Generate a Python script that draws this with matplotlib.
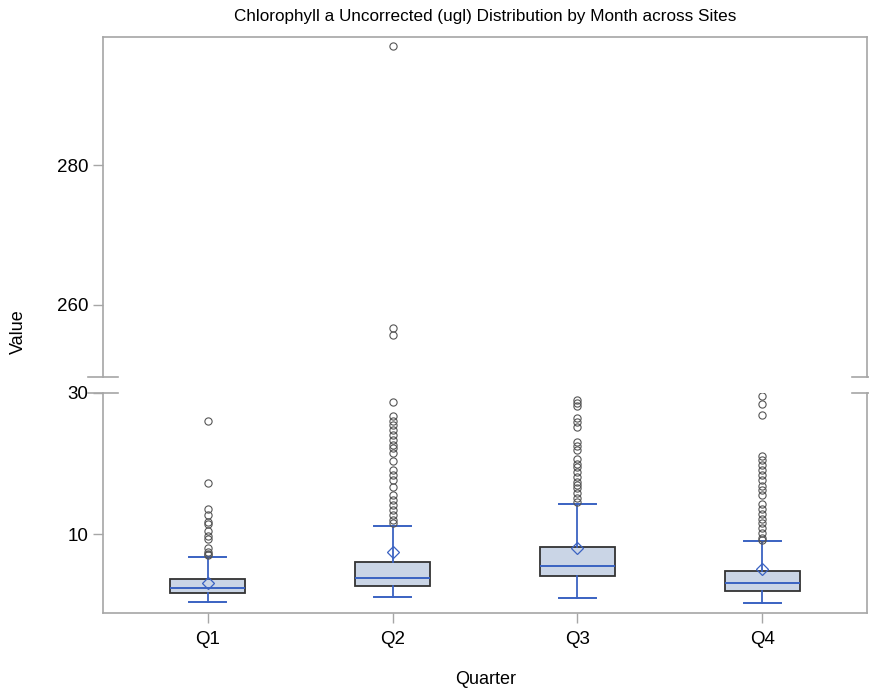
import matplotlib
matplotlib.use("Agg")
import matplotlib.pyplot as plt

plt.rcParams['font.family'] = ['Liberation Sans', 'DejaVu Sans']

quarters = ["Q1", "Q2", "Q3", "Q4"]
whislo = [0.35, 1.0, 0.9, 0.26]
q1 = [1.6, 2.7, 4.1, 1.95]
med = [2.3, 3.8, 5.5, 3.0]
q3 = [3.65, 6.1, 8.15, 4.75]
whishi = [6.8, 11.2, 14.2, 8.95]
means = [3.1, 7.4, 8.0, 5.05]
fliers = [
    [26.0, 17.2, 13.5, 12.7, 11.7, 11.4, 10.4, 9.7, 9.3, 8.0, 7.5, 7.2, 7.0],
    [297.0, 256.7, 255.7, 28.7, 26.7, 26.0, 25.5, 24.8, 24.0, 23.3, 22.6, 22.2,
     21.5, 20.3, 19.1, 18.4, 17.7, 16.7, 15.5, 14.8, 14.1, 13.4, 12.7, 12.0, 11.5],
    [29.0, 28.6, 28.2, 26.5, 25.9, 25.2, 23.1, 22.5, 21.9, 20.6, 20.0, 19.5,
     18.8, 18.1, 17.4, 17.0, 16.5, 15.8, 15.1, 14.6],
    [29.6, 28.4, 26.9, 21.1, 20.5, 19.8, 19.1, 18.4, 17.7, 16.8, 16.2, 15.5,
     14.3, 13.6, 12.9, 12.2, 11.5, 10.8, 10.1, 9.4, 9.2],
]

BLUE = "#3a62c2"
SPINE = "#a6a6a6"

stats = []
for i in range(len(quarters)):
    stats.append(dict(whislo=whislo[i], q1=q1[i], med=med[i], q3=q3[i],
                      whishi=whishi[i], mean=means[i], fliers=fliers[i]))

fig = plt.figure(figsize=(8.69, 6.89), dpi=100)
W, H = 869, 689
left, right = 103 / W, 867 / W
ax_top = fig.add_axes([left, 1 - 377 / H, right - left, (377 - 37) / H])
ax_bot = fig.add_axes([left, 1 - 613 / H, right - left, (613 - 393) / H])

for ax in (ax_top, ax_bot):
    ax.bxp(stats, positions=range(len(quarters)), widths=0.405, capwidths=0.195,
           showmeans=True, patch_artist=True,
           boxprops=dict(facecolor="#cad5e6", edgecolor="#333333", linewidth=1.3),
           medianprops=dict(color=BLUE, linewidth=1.4),
           whiskerprops=dict(color=BLUE, linewidth=1.3),
           capprops=dict(color=BLUE, linewidth=1.4),
           meanprops=dict(marker="D", markerfacecolor="none", markeredgecolor=BLUE,
                          markersize=6.5, markeredgewidth=0.9),
           flierprops=dict(marker="o", markerfacecolor="none", markeredgecolor="#555555",
                           markersize=5.2, markeredgewidth=0.8))
    ax.set_xlim(-0.565, 3.565)
    for s in ax.spines.values():
        s.set_color(SPINE)
        s.set_linewidth(1.2)
    ax.tick_params(axis="both", colors=SPINE, labelcolor="black", labelsize=13.5,
                   length=7, width=1.0)

ax_top.set_ylim(249.7, 298.3)
ax_top.set_yticks([260, 280])
ax_top.spines["bottom"].set_visible(False)
ax_top.tick_params(axis="x", bottom=False, labelbottom=False)

ax_bot.set_ylim(-1.2, 30.0)
ax_bot.set_yticks([10, 30])
ax_bot.spines["top"].set_visible(False)
ax_bot.set_xticks(range(len(quarters)))
ax_bot.set_xticklabels(quarters)
ax_bot.tick_params(axis="x", pad=6)

# break marks
for y in (377, 393):
    for x in (103, 867):
        fig.add_artist(plt.Line2D([(x - 15) / W, (x + 15) / W], [1 - y / H, 1 - y / H],
                                  color=SPINE, linewidth=1.2))

fig.text(485 / W, 1 - 17 / H, "Chlorophyll a Uncorrected (ugl) Distribution by Month across Sites",
         ha="center", va="center", fontsize=12.3)
fig.text(18 / W, 1 - 332 / H, "Value", rotation=90, ha="center", va="center", fontsize=13)
fig.text(486 / W, 1 - 679 / H, "Quarter", ha="center", va="center", fontsize=13)

fig.savefig("out.png", dpi=100)
